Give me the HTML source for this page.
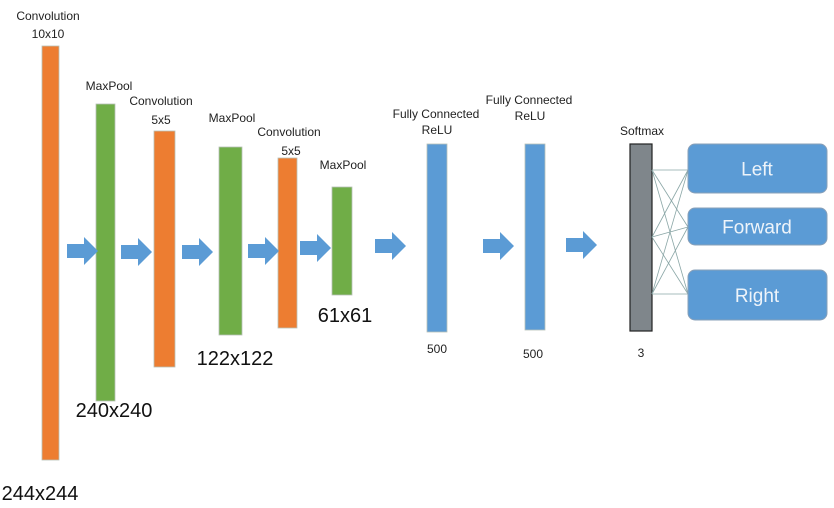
<!DOCTYPE html>
<html><head><meta charset="utf-8"><style>
html,body{margin:0;padding:0;background:#fff;}
svg{display:block;font-family:"Liberation Sans",sans-serif;}
.s{font-size:12px;fill:#222;}
.b{font-size:20px;fill:#111;}
.w{font-size:19px;fill:#eef4fa;}
</style></head><body>
<svg id="c" width="834" height="508" viewBox="0 0 834 508">
<g id="layers"></g>
<g id="arrows"></g>
<g id="labels"></g>
<g id="out"></g>
</svg>
<script>
const layerNames=["conv1","pool1","conv2","pool2","conv3","pool3","fc1","fc2","softmax"];
const layerX=[42,96,154,219,278,332,427,525,630];
const layerW=[17,19,21,23,19,20,20,20,22];
const layerTop=[46,104,131,147,158,187,144,144,144];
const layerBottom=[460,401,367,335,328,295,332,330,331];
const layerColor=["#ed7d31","#70ad47","#ed7d31","#70ad47","#ed7d31","#70ad47","#5b9bd5","#5b9bd5","#7f868b"];
const arrowX=[67,121,182,248,300,375,483,566];
const arrowY=[251,252,252,251,248,246,246,245];
const NS="http://www.w3.org/2000/svg";
function mk(t,a,p){const e=document.createElementNS(NS,t);for(const k in a)e.setAttribute(k,a[k]);p.appendChild(e);return e;}
const L=document.getElementById('layers');
layerNames.forEach((n,i)=>{
 const r=mk('rect',{x:layerX[i],y:layerTop[i],width:layerW[i],height:layerBottom[i]-layerTop[i],fill:layerColor[i]},L);
 if(n==='softmax'){r.setAttribute('stroke','#222');r.setAttribute('stroke-width','1.2');}
 else {r.setAttribute('stroke','#b8c0b8');r.setAttribute('stroke-width','0.8');}
 
 
});
const A=document.getElementById('arrows');
arrowX.forEach((x,i)=>{
 const y=arrowY[i];
 const p=mk('polygon',{points:`${x},${y-7} ${x+17},${y-7} ${x+17},${y-14} ${x+31},${y} ${x+17},${y+14} ${x+17},${y+7} ${x},${y+7}`,fill:"#5b9bd5"},A);
 
 
});
const labels=[
 ["Convolution",48,20,"s"],["10x10",48,38,"s"],
 ["MaxPool",109,90,"s"],["Convolution",161,105,"s"],["5x5",161,124,"s"],
 ["MaxPool",232,122,"s"],["Convolution",289,136,"s"],["5x5",291,155,"s"],
 ["MaxPool",343,169,"s"],
 ["Fully Connected",436,118,"s"],["ReLU",437,134,"s"],
 ["Fully Connected",529,104,"s"],["ReLU",530,120,"s"],
 ["Softmax",642,135,"s"],["500",437,353,"s"],["500",533,358,"s"],["3",641,357,"s"],
 ["244x244",40,500,"b"],["240x240",114,417,"b"],["122x122",235,365,"b"],["61x61",345,322,"b"]
];
const T=document.getElementById('labels');
labels.forEach(l=>{
 const t=mk('text',{x:l[1],y:l[2],class:l[3],'text-anchor':'middle'},T);
 t.textContent=l[0];
 
 
});
const O=document.getElementById('out');
const srcY=[170,237,294], dstY=[170,227,294];
srcY.forEach(a=>dstY.forEach(b=>{mk('line',{x1:652,y1:a,x2:688,y2:b,stroke:"#8aa6a6","stroke-width":0.8},O);}));
const boxes=[["Left",144,49],["Forward",208,37],["Right",270,50]];
boxes.forEach(b=>{
 const r=mk('rect',{x:688,y:b[1],width:139,height:b[2],rx:7,fill:"#5b9bd5",stroke:"#8aa0b8","stroke-width":1},O);
 
 
 const t=mk('text',{x:757,y:b[1]+b[2]/2+7,class:'w','text-anchor':'middle'},O);
 t.textContent=b[0];
 
 
});
</script>
</body></html>
